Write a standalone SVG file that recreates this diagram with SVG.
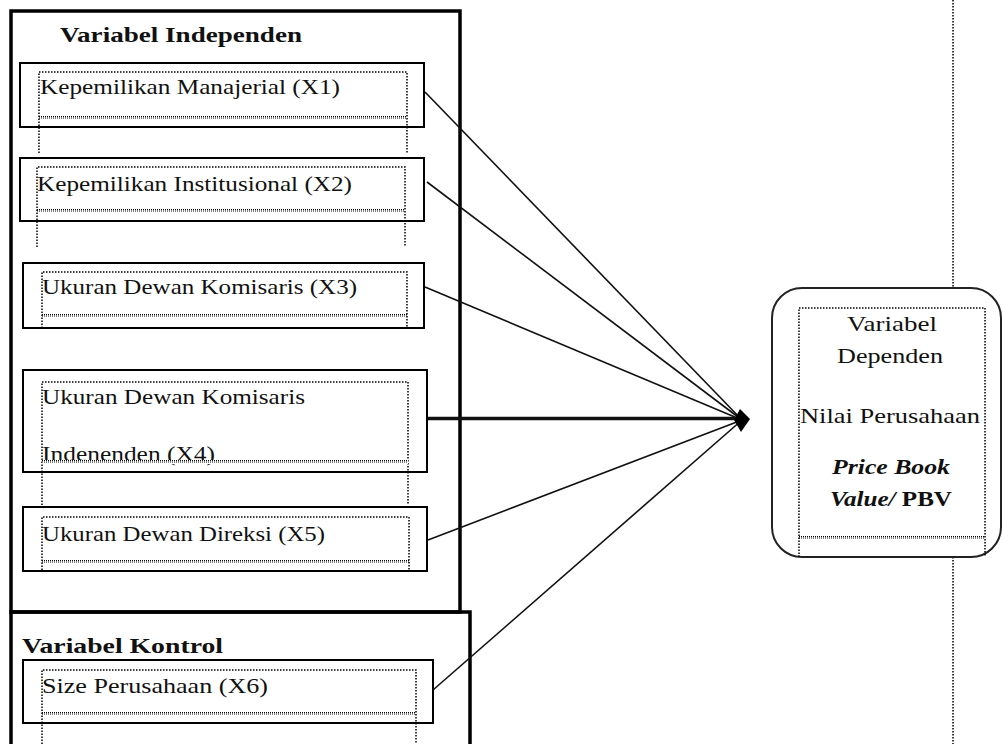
<svg xmlns="http://www.w3.org/2000/svg" width="1003" height="744" viewBox="0 0 1003 744">
<style>
.bg{fill:#fff}
.outer{fill:none;stroke:#000;stroke-width:3.5}
.box{fill:#fff;stroke:#000;stroke-width:2}
.dot{fill:none;stroke:#000;stroke-width:1.5;stroke-dasharray:1.5 1.5}
.wave{fill:none;stroke:#000;stroke-width:1.2;stroke-dasharray:1 1}
.t{font-family:"Liberation Serif","Times New Roman",serif;font-size:22px;fill:#111}
.r{font-family:"Liberation Serif","Times New Roman",serif;font-size:22px;fill:#111}
.h{font-family:"Liberation Serif","Times New Roman",serif;font-size:22px;font-weight:bold;fill:#111}
.conn{fill:none;stroke:#111;stroke-width:1.6}
</style>
<rect class="bg" x="0" y="0" width="1003" height="744"/>
<g id="divider">
<path class="dot" d="M953,0 V288 M953,557 V744"/>
</g>
<g id="independen">
<rect class="outer" x="11" y="11" width="449" height="601"/>
<text class="h" x="60" y="42" textLength="242" lengthAdjust="spacingAndGlyphs">Variabel Independen</text>
</g>
<g id="kontrol">
<path class="outer" d="M11,744 V612 H470 V744"/>
<text class="h" x="22" y="653" textLength="201" lengthAdjust="spacingAndGlyphs">Variabel Kontrol</text>
</g>
<g id="x1">
<rect class="box" x="20" y="63" width="404" height="64"/>
<path class="dot" d="M39,153 V72 H407 V153"/>
<path class="wave" d="M39,116.5 H407 M39,118 H407"/>
<text class="t" x="40" y="94" textLength="300" lengthAdjust="spacingAndGlyphs">Kepemilikan Manajerial (X1)</text>
</g>
<g id="x2">
<rect class="box" x="20" y="158" width="404" height="63"/>
<path class="dot" d="M37,247 V167 H405 V247"/>
<path class="wave" d="M37,209.5 H405 M37,211 H405"/>
<text class="t" x="37" y="191" textLength="315" lengthAdjust="spacingAndGlyphs">Kepemilikan Institusional (X2)</text>
</g>
<g id="x3">
<rect class="box" x="23" y="263" width="401" height="65"/>
<path class="dot" d="M42,328 V272 H407 V328"/>
<path class="wave" d="M42,314.5 H407 M42,316 H407"/>
<text class="t" x="42" y="294" textLength="315" lengthAdjust="spacingAndGlyphs">Ukuran Dewan Komisaris (X3)</text>
</g>
<g id="x4">
<rect class="box" x="23" y="370" width="404" height="102"/>
<path class="dot" d="M42,505 V382 H408 V505"/>
<text class="t" x="42" y="404" textLength="263" lengthAdjust="spacingAndGlyphs">Ukuran Dewan Komisaris</text>
<text class="t" x="42" y="461" textLength="173" lengthAdjust="spacingAndGlyphs">Indenenden (X4)</text>
<rect x="42" y="460" width="366" height="4" fill="#fff"/>
<path class="wave" d="M42,460.5 H408 M42,462 H408"/>
</g>
<g id="x5">
<rect class="box" x="23" y="507" width="404" height="64"/>
<path class="dot" d="M42,570 V517 H409 V570"/>
<path class="wave" d="M42,560.5 H409 M42,562 H409"/>
<text class="t" x="42" y="541" textLength="283" lengthAdjust="spacingAndGlyphs">Ukuran Dewan Direksi (X5)</text>
</g>
<g id="x6">
<rect class="box" x="23" y="660" width="410" height="63"/>
<path class="dot" d="M42,744 V670 H416 V744"/>
<path class="wave" d="M42,712.5 H416 M42,714 H416"/>
<text class="t" x="42" y="693" textLength="226" lengthAdjust="spacingAndGlyphs">Size Perusahaan  (X6)</text>
</g>
<g id="dependen">
<rect x="772" y="288" width="229" height="269" rx="30" ry="30" fill="#fff" stroke="#222" stroke-width="2"/>
<path class="dot" d="M799,557 V308 H985 V557"/>
<path class="wave" d="M799,536.5 H985 M799,538 H985"/>
<text class="r" x="847" y="331" textLength="90" lengthAdjust="spacingAndGlyphs">Variabel</text>
<text class="r" x="837" y="363" textLength="106" lengthAdjust="spacingAndGlyphs">Dependen</text>
<text class="r" x="800" y="423" textLength="180" lengthAdjust="spacingAndGlyphs">Nilai Perusahaan</text>
<text class="r" x="832" y="474" textLength="118" lengthAdjust="spacingAndGlyphs" font-weight="bold" font-style="italic">Price Book</text>
<text class="r" x="830" y="506" textLength="122" lengthAdjust="spacingAndGlyphs" font-weight="bold"><tspan font-style="italic">Value/</tspan> PBV</text>
</g>
<g id="connectors">
<path class="conn" d="M425,92 L742,420"/>
<path class="conn" d="M427,182 L742,420"/>
<path class="conn" d="M425,287 L742,420"/>
<path class="conn" d="M428,418.5 L742,418.5" style="stroke-width:3.5"/>
<path class="conn" d="M428,540 L742,420"/>
<path class="conn" d="M433,690 L742,420"/>
<polygon points="734,420 740,409 750,419 741,432" fill="#000"/>
</g>
</svg>
